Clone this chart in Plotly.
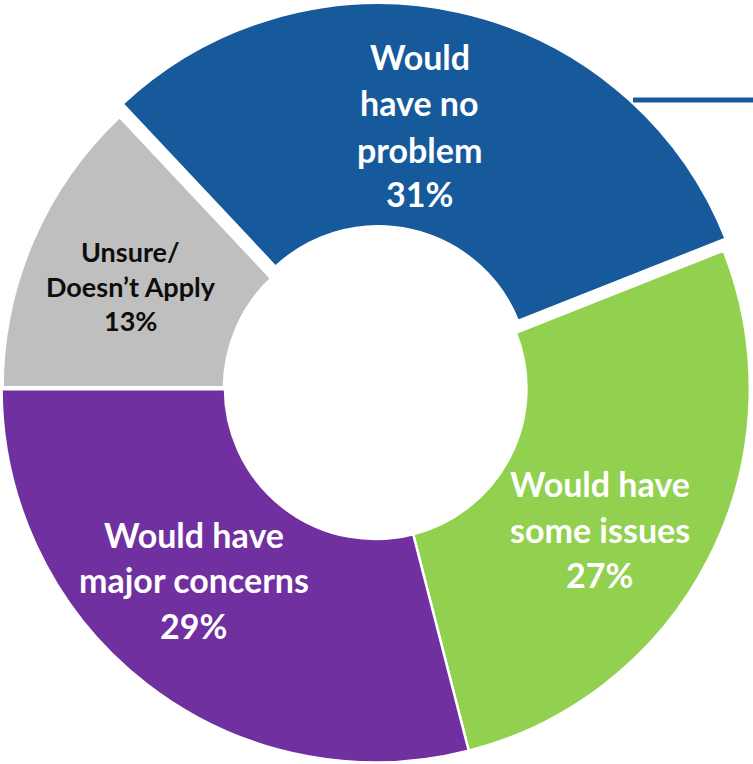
import math
import plotly.graph_objects as go

# ---------------- data ----------------
categories = ["Would have no problem", "Would have some issues",
              "Would have major concerns", "Unsure/Doesn’t Apply"]
values = [31, 27, 29, 13]
label_lines = [
    ["Would", "have no", "problem"],
    ["Would have", "some issues"],
    ["Would have", "major concerns"],
    ["Unsure/", "Doesn’t Apply"],
]

# ---------------- styling / layout ----------------
colors = ["#165A9C", "#92D050", "#7030A0", "#BFBFBF"]
text_colors = ["white", "white", "white", "#0D0D0D"]
font_sizes = [34, 34, 34, 27]
W, H = 753, 764
CX, CY = 375.7, 388.3          # pixel centre of the ring
R_VIS = 372.9                  # visible outer radius
HOLE_VIS = 152.0               # visible inner radius
ROT = -43.2                    # start angle of first slice (clockwise from 12 o'clock)
PULL_PX = 11.5                 # explode distance of first slice
A_WIDTHS = [0, 2.5, 2.5, 4.5]  # white separators
B_WIDTH = 4
# label anchor x and baselines (pixels)
label_pos = [
    (420, [69.5, 116, 162.5, 207]),
    (599.7, [497, 542.5, 588]),
    (193.5, [547.3, 592.7, 638.3]),
    (130.5, [261.5, 296.5, 331]),
]


def domain(cx, cy, r):
    x0, x1 = (cx - r) / W, (cx + r) / W
    y0, y1 = 1 - (cy + r) / H, 1 - (cy - r) / H
    c = lambda v: min(1.0, max(0.0, v))
    return dict(x=[c(x0), c(x1)], y=[c(y0), c(y1)])


total = sum(values)
mid = math.radians(ROT + 360 * values[0] / total / 2)
dx, dy = PULL_PX * math.sin(mid), -PULL_PX * math.cos(mid)

fig = go.Figure()

# ring with all slices except the exploded one
rA = R_VIS + 1.25
colsA = ["rgba(0,0,0,0)"] + colors[1:]
fig.add_trace(go.Pie(
    labels=categories, values=values, sort=False, direction="clockwise",
    rotation=ROT, hole=(HOLE_VIS - 1.25) / rA,
    marker=dict(colors=colsA, line=dict(color="white", width=A_WIDTHS)),
    textinfo="none", hoverinfo="label+percent",
    domain=domain(CX, CY, rA), showlegend=False,
))

# exploded first slice
rB = R_VIS + B_WIDTH / 2
colsB = [colors[0]] + ["rgba(0,0,0,0)"] * (len(values) - 1)
fig.add_trace(go.Pie(
    labels=categories, values=values, sort=False, direction="clockwise",
    rotation=ROT, hole=(HOLE_VIS - B_WIDTH / 2) / rB,
    marker=dict(colors=colsB, line=dict(color="white", width=[B_WIDTH, 0, 0, 0])),
    textinfo="none", hoverinfo="skip",
    domain=domain(CX + dx, CY + dy, rB), showlegend=False,
))

# labels
annotations = []
for i, (lines, v) in enumerate(zip(label_lines, values)):
    x, baselines = label_pos[i]
    size = font_sizes[i]
    all_lines = lines + [f"{v}%"]
    for line, b in zip(all_lines, baselines):
        yc = b - 0.387 * size
        annotations.append(dict(
            text=line, x=x / W, y=1 - yc / H, xref="paper", yref="paper",
            xanchor="center", yanchor="middle", showarrow=False,
            font=dict(family="Lato", size=size, color=text_colors[i], weight=700),
        ))

fig.update_layout(
    width=W, height=H, margin=dict(l=0, r=0, t=0, b=0),
    paper_bgcolor="white", plot_bgcolor="white", showlegend=False,
    annotations=annotations,
    shapes=[dict(type="line", xref="paper", yref="paper",
                 x0=633 / W, x1=1.0, y0=1 - 100 / H, y1=1 - 100 / H,
                 line=dict(color=colors[0], width=5))],
)

fig.write_html("out.html", config={"displayModeBar": False},
               post_script="document.body.style.margin='0';document.body.style.overflow='hidden';")
